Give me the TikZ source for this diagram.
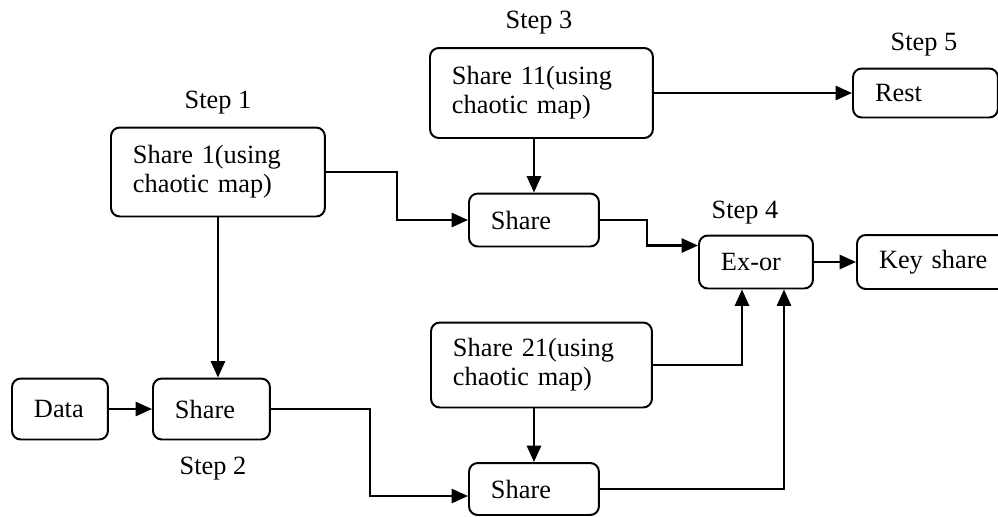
\documentclass[tikz,border=0pt]{standalone}
\usepackage{fontspec}
\setmainfont{Liberation Serif}
\usepackage{tikz}
\usetikzlibrary{arrows.meta, positioning, calc}

\tikzset{
    box/.style={draw, line width=0.9pt, rounded corners=4pt, align=left,
        inner xsep=0.352cm, inner ysep=0pt, anchor=west,
        font=\fontsize{12pt}{13.2pt}\selectfont},
    link/.style={->, line width=1pt},
    steplabel/.style={anchor=base, font=\fontsize{12pt}{13.2pt}\selectfont}
}

\begin{document}
\begin{tikzpicture}[
    x=0.016cm,
    y=-0.016cm,
    >={Triangle[length=7.5pt,width=6.5pt]}
]
\useasboundingbox (0,0) rectangle (998,516);
% Boxes
\node[box, text width=0.832cm, minimum height=0.976cm] (data) at (11,409) {Data};
\node[box, text width=1.168cm, minimum height=0.976cm] (share2) at (152,409) {Share};
\node[box, text width=2.72cm, minimum height=1.424cm] (share1) at (110,172) {Share 1(using\\chaotic map)};
\node[box, text width=2.864cm, minimum height=1.44cm] (share11) at (429,93) {Share 11(using\\chaotic map)};
\node[box, text width=1.376cm, minimum height=0.848cm] (shareA) at (468,220) {Share};
\node[box, text width=2.832cm, minimum height=1.36cm] (share21) at (430,365) {Share 21(using\\chaotic map)};
\node[box, text width=1.376cm, minimum height=0.832cm] (shareB) at (468,489) {Share};
\node[box, text width=1.12cm, minimum height=0.848cm] (exor) at (698,262) {Ex-or};
\node[box, text width=1.76cm, minimum height=0.864cm] (keyshare) at (856,262) {Key share};
\node[box, text width=1.616cm, minimum height=0.784cm] (rest) at (852,93) {Rest};
% Step labels
\foreach \n/\px/\py in {1/218/108, 2/213/474, 3/539/28, 4/745/218, 5/924/50} {
    \node[steplabel] (step\n) at (\px,\py) {Step \n};
}
% Arrows
\draw[link] (data) -- (share2);
\draw[link] (share1) -- (share1 |- share2.north);
\draw[link] (share1.east) -- ++(71,0) |- (shareA.west);
\draw[link] (share11.south -| shareA) -- (shareA);
\draw[link] (share11) -- (rest);
\draw[link] (shareA.east) -- ++(47,0) |- ($(exor.north west)+(0,11)$);
\draw[link] (exor) -- (keyshare);
\draw[link] (share21.east) -| ($(exor.south)+(-14,0)$);
\draw[link] (share21.south -| shareB) -- (shareB);
\draw[link] (share2.east) -- ++(99,0) |- ($(shareB.west)+(0,7)$);
\draw[link] (shareB.east) -| ($(exor.south)+(28,0)$);
\end{tikzpicture}
\end{document}
